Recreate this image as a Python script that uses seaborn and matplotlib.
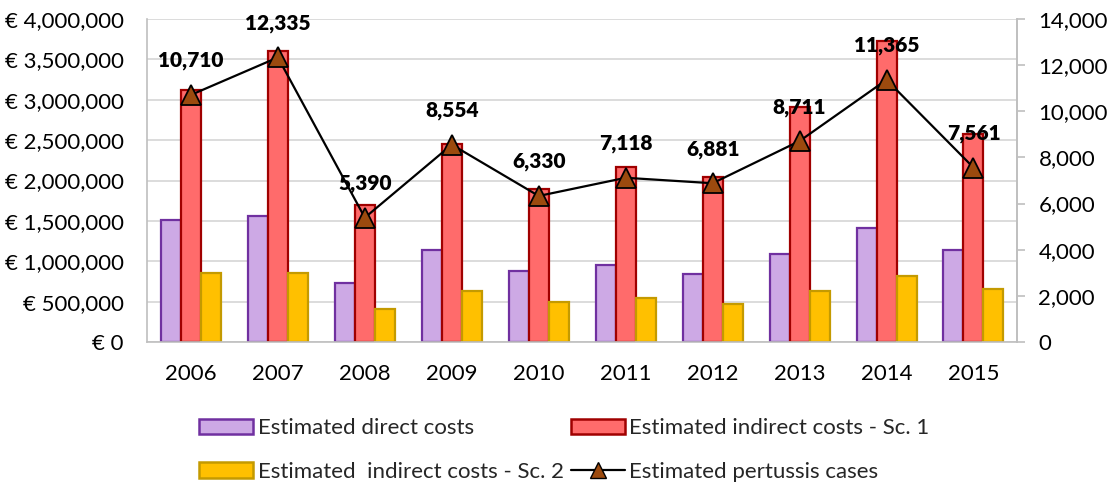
import numpy as np
import pandas as pd
import matplotlib
matplotlib.use("Agg")
import matplotlib.pyplot as plt
from matplotlib.ticker import FuncFormatter, MultipleLocator
from matplotlib.patches import Patch
from matplotlib.lines import Line2D
import seaborn as sns

years = ["2006", "2007", "2008", "2009", "2010", "2011", "2012", "2013", "2014", "2015"]
direct_costs = [1511000, 1560000, 727000, 1139000, 883000, 954000, 842000, 1090000, 1408000, 1139000]
indirect_sc1 = [3121000, 3608000, 1697000, 2452000, 1895000, 2163000, 2047000, 2906000, 3731000, 2572000]
indirect_sc2 = [854000, 854000, 409000, 632000, 491000, 541000, 471000, 632000, 817000, 656000]
pertussis_cases = [10710, 12335, 5390, 8554, 6330, 7118, 6881, 8711, 11365, 7561]

series_names = ["Estimated direct costs", "Estimated indirect costs - Sc. 1", "Estimated  indirect costs - Sc. 2"]
line_name = "Estimated pertussis cases"

fills = ["#CDA9E5", "#FF6B6B", "#FFC000"]
edges = ["#7030A0", "#A00000", "#C49A00"]

sns.set_theme(style="white")
plt.rcParams["font.family"] = ["Lato", "DejaVu Sans"]

df = pd.DataFrame({
    "year": years * 3,
    "value": direct_costs + indirect_sc1 + indirect_sc2,
    "series": [series_names[0]] * 10 + [series_names[1]] * 10 + [series_names[2]] * 10,
})

fig = plt.figure(figsize=(11.13, 4.86), dpi=100)
ax = fig.add_axes([0.1325, 0.2963, 0.9137 - 0.1325, 0.9609 - 0.2963])

sns.barplot(data=df, x="year", y="value", hue="series", hue_order=series_names,
            palette=fills, width=0.69, ax=ax, legend=False, saturation=1)
for cont, ec in zip(ax.containers, edges):
    for bar in cont:
        bar.set_edgecolor(ec)
        bar.set_linewidth(1.6)

ax.set_ylim(0, 4000000)
ax.set_xlim(-0.5, 9.5)
ax.yaxis.set_major_locator(MultipleLocator(500000))
ax.yaxis.set_major_formatter(FuncFormatter(lambda v, p: f"€ {v:,.0f}"))
ax.grid(axis="y", color="#D9D9D9", linewidth=1.3)
ax.set_axisbelow(True)
ax.set_xlabel("")
ax.set_ylabel("")
ax.spines["top"].set_visible(False)
for s in ["left", "bottom", "right"]:
    ax.spines[s].set_color("#BFBFBF")
    ax.spines[s].set_linewidth(1.2)
ax.tick_params(axis="y", length=0, pad=17, labelsize=16, colors="black")
ax.tick_params(axis="x", length=0, pad=16, labelsize=16, colors="black")

ax2 = ax.twinx()
x_pos = np.arange(len(years))
sns.lineplot(x=x_pos, y=pertussis_cases, ax=ax2, color="black", linewidth=1.6,
             marker="^", markersize=15, markerfacecolor="#9C4A0E",
             markeredgecolor="black", markeredgewidth=1.3, zorder=5)
ax2.set_ylim(0, 14000)
ax2.yaxis.set_major_locator(MultipleLocator(2000))
ax2.yaxis.set_major_formatter(FuncFormatter(lambda v, p: f"{v:,.0f}"))
ax2.set_ylabel("")
ax2.spines["top"].set_visible(False)
ax2.spines["left"].set_visible(False)
ax2.spines["bottom"].set_visible(False)
ax2.spines["right"].set_color("#BFBFBF")
ax2.spines["right"].set_linewidth(1.2)
ax2.tick_params(axis="y", length=5.5, width=1.2, pad=10, labelsize=16, labelcolor="black", color="#BFBFBF")
ax2.grid(False)

for xi, v in zip(x_pos, pertussis_cases):
    ax2.annotate(f"{v:,}", (xi, v), xytext=(0, 34), textcoords="offset pixels",
                 ha="center", va="center", fontsize=15, fontweight="heavy", color="black", zorder=6)

handles = [
    Patch(facecolor=fills[0], edgecolor=edges[0], linewidth=1.8, label=series_names[0]),
    Patch(facecolor=fills[2], edgecolor=edges[2], linewidth=1.8, label=series_names[2]),
    Patch(facecolor=fills[1], edgecolor=edges[1], linewidth=1.8, label=series_names[1]),
    Line2D([0], [0], color="black", linewidth=1.6, marker="^", markersize=12,
           markerfacecolor="#9C4A0E", markeredgecolor="black", label=line_name),
]
fig.legend(handles=handles, ncol=2, loc="center left", bbox_to_anchor=(199 / 1113, 0.074),
           frameon=False, fontsize=16, handlelength=2.43, handleheight=0.68,
           handletextpad=0.22, columnspacing=0.3, labelspacing=1.05,
           borderpad=0, borderaxespad=0)

fig.savefig("out.png", dpi=100)
